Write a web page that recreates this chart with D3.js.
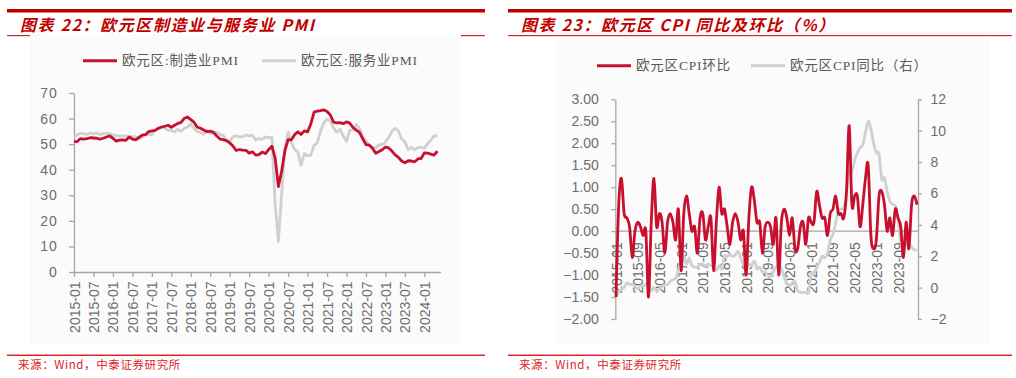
<!DOCTYPE html>
<html><head><meta charset="utf-8">
<script src="https://cdn.jsdelivr.net/npm/d3@7"></script>
<style>body{margin:0;background:#fff}svg{display:block}</style>
</head><body><svg id="c" width="1016" height="378"></svg>
<script>
// ---------- data ----------
const pmiStart = "2015-01", pmiEnd = "2024-05";
const mfgPMI = [
51.0,51.0,52.2,52.0,52.2,52.5,52.4,52.3,52.0,52.3,52.8,53.2,
52.3,51.2,51.6,51.7,51.5,52.8,52.0,51.7,52.6,53.5,53.7,54.9,
55.2,55.4,56.2,56.7,57.0,57.4,56.6,57.4,58.1,58.5,60.1,60.6,
59.6,58.6,56.6,56.2,55.5,54.9,55.1,54.6,53.2,52.0,51.8,51.4,
50.5,49.3,47.5,47.9,47.7,47.6,46.5,47.0,45.7,45.9,46.9,46.3,
47.9,49.2,44.5,33.4,39.4,47.4,51.8,51.7,53.7,54.8,53.8,55.2,
54.8,57.9,62.5,62.9,63.1,63.4,62.8,61.4,58.6,58.3,58.4,58.0,
58.7,58.2,56.5,55.5,54.6,52.1,49.8,49.6,48.4,46.4,47.1,47.8,
48.8,48.5,47.3,45.8,44.8,43.4,42.7,43.5,43.4,43.1,44.2,44.4,
46.6,46.5,46.1,45.7,47.3];
const svcPMI = [
52.7,53.7,54.2,54.1,53.8,54.4,54.0,54.4,53.7,54.1,54.2,54.2,
53.6,53.3,53.1,53.1,53.3,52.8,52.9,52.8,52.2,52.8,53.8,53.7,
53.7,55.5,56.0,56.4,56.3,55.4,55.4,54.7,55.8,55.0,56.2,56.6,
58.0,56.2,54.9,54.7,53.8,55.2,54.2,54.4,54.7,53.7,53.4,51.2,
51.2,52.8,53.3,52.8,52.9,53.6,53.2,53.5,51.6,52.2,51.9,52.8,
52.5,52.6,26.4,12.0,30.5,48.3,54.7,50.5,48.0,46.9,41.7,46.4,
45.4,45.7,49.6,50.5,55.2,58.3,59.8,59.0,56.4,54.6,55.9,53.1,
51.1,55.5,55.6,57.7,56.1,53.0,51.2,49.8,48.8,48.6,49.8,49.8,
50.8,52.7,55.0,56.2,55.1,52.0,50.9,47.9,48.7,47.8,48.7,48.8,
48.4,50.2,51.5,53.3,53.2];
const pmiTicksY = [0,10,20,30,40,50,60,70];
const pmiTickLabels = ["2015-01","2015-07","2016-01","2016-07","2017-01","2017-07","2018-01","2018-07","2019-01","2019-07","2020-01","2020-07","2021-01","2021-07","2022-01","2022-07","2023-01","2023-07","2024-01"];

const cpiStart = "2015-01", cpiEnd = "2024-04";
const cpiMoM = [
-1.5,0.6,1.2,0.4,0.3,0.1,-0.6,0.0,0.2,0.1,-0.1,0.0,
-1.5,0.2,1.2,0.1,0.4,0.2,-0.5,0.2,0.4,0.2,-0.2,0.5,
-0.9,0.4,0.8,0.4,0.0,0.1,-0.5,0.3,0.4,-0.2,0.1,0.3,
-0.9,0.2,1.0,0.4,0.5,0.1,-0.3,0.2,0.4,0.2,-0.2,0.0,
-1.0,0.3,1.0,0.7,0.2,0.2,-0.5,0.1,0.2,0.1,-0.3,0.3,
-1.0,0.2,0.5,0.3,-0.1,0.3,-0.4,-0.4,0.1,0.2,-0.3,0.3,
0.2,0.2,0.9,0.6,0.3,0.3,-0.1,0.4,0.5,0.8,0.4,0.4,
0.3,0.9,2.4,0.6,0.8,0.8,0.1,0.6,1.2,1.5,-0.1,-0.4,
-0.2,0.8,0.9,0.6,0.0,0.3,-0.1,0.5,0.3,0.1,-0.6,0.2,
-0.4,0.6,0.8,0.6];
const cpiYoY = [
-0.6,-0.3,-0.1,0.0,0.3,0.2,0.2,0.1,-0.1,0.1,0.1,0.2,
0.3,-0.2,0.0,-0.2,-0.1,0.1,0.2,0.2,0.4,0.5,0.6,1.1,
1.7,2.0,1.5,1.9,1.4,1.3,1.3,1.5,1.5,1.4,1.5,1.4,
1.3,1.1,1.4,1.2,2.0,2.0,2.1,2.0,2.1,2.3,1.9,1.5,
1.4,1.5,1.4,1.7,1.2,1.3,1.0,1.0,0.8,0.7,1.0,1.3,
1.4,1.2,0.7,0.3,0.1,0.3,0.4,-0.2,-0.3,-0.3,-0.3,-0.3,
0.9,0.9,1.3,1.6,2.0,1.9,2.2,3.0,3.4,4.1,4.9,5.0,
5.1,5.9,7.4,7.4,8.1,8.6,8.9,9.1,9.9,10.6,10.1,9.2,
8.6,8.5,6.9,7.0,6.1,5.5,5.3,5.2,4.3,2.9,2.4,2.9,
2.8,2.6,2.4,2.4];
const cpiTicksL = [-2,-1.5,-1,-0.5,0,0.5,1,1.5,2,2.5,3];
const cpiTicksR = [-2,0,2,4,6,8,10,12];
const cpiTickLabels = ["2015-01","2015-09","2016-05","2017-01","2017-09","2018-05","2019-01","2019-09","2020-05","2021-01","2021-09","2022-05","2023-01","2023-09"];

// ---------- helpers ----------
const RED = "#c8102e", GRAY = "#d0d0d0", AX = "#a6a6a6", TXT = "#6e6e6e", TRED = "#c00000";
const svg = d3.select("#c");
const parseM = d3.timeParse("%Y-%m"), fmtM = d3.timeFormat("%Y-%m");
const monthsOf = (a,b) => d3.timeMonth.range(parseM(a), d3.timeMonth.offset(parseM(b),1)).map(fmtM);
const pmiMonths = monthsOf(pmiStart, pmiEnd);
const cpiMonths = monthsOf(cpiStart, cpiEnd);
const latinCJK = "'Liberation Serif','Noto Sans CJK SC',serif";
const sansFont = "'Liberation Sans',Arial,sans-serif";

function frame(x0, x1, title, bg) {
  svg.append("rect").attr("x", x0).attr("y", 9).attr("width", x1 - x0).attr("height", 3.5).attr("fill", TRED);
  svg.append("text").attr("x", x0 + 13).attr("y", 31).text(title)
    .attr("fill", TRED).style("font-family", "'Noto Sans CJK SC',sans-serif")
    .style("font-weight", "bold").style("font-style", "italic").style("font-size", "16px").style("letter-spacing", "1.6px");
  svg.append("rect").attr("x", x0).attr("y", 35).attr("width", x1 - x0).attr("height", 1.2).attr("fill", "#d9262a");
  svg.append("rect").attr("x", bg[0]).attr("y", bg[1]).attr("width", bg[2]).attr("height", bg[3]).attr("fill", "#fbfbfb");
  svg.append("rect").attr("x", x0).attr("y", 354.5).attr("width", x1 - x0).attr("height", 1.5).attr("fill", "#d9262a");
  svg.append("text").attr("x", x0 + 11).attr("y", 369).text("来源：Wind，中泰证券研究所")
    .attr("fill", "#d9262a").style("font-family", "'Noto Sans CJK SC',sans-serif").style("font-size", "11.5px").style("letter-spacing", "0.6px");
}

function legendItem(x, y, color, label) {
  svg.append("line").attr("x1", x).attr("x2", x + 34).attr("y1", y).attr("y2", y)
    .attr("stroke", color).attr("stroke-width", 3);
  svg.append("text").attr("x", x + 39).attr("y", y + 4.5).text(label).attr("fill", "#595959")
    .style("font-family", latinCJK).style("font-size", "13.5px").style("letter-spacing", "0.8px");
}

function styleAxis(g) {
  g.selectAll(".domain").attr("stroke", AX).attr("stroke-width", 1.3);
  g.selectAll(".tick line").attr("stroke", AX).attr("stroke-width", 1.3);
  g.selectAll("text").attr("fill", TXT).style("font-family", sansFont).style("font-size", "14px");
}

// ---------- left chart ----------
frame(7, 485, "图表 22：欧元区制造业与服务业 PMI", [30, 34, 431, 309]);
legendItem(83, 60.7, RED, "欧元区:制造业PMI");
legendItem(262, 60.7, GRAY, "欧元区:服务业PMI");

const xL = d3.scaleLinear().domain([0, 113]).range([74, 440.6]);
const yL = d3.scaleLinear().domain([0, 70]).range([272, 93]);

const gyL = svg.append("g").attr("transform", "translate(74,0)")
  .call(d3.axisLeft(yL).tickValues(pmiTicksY).tickSize(5).tickPadding(11.5).tickSizeOuter(0));
styleAxis(gyL);
gyL.selectAll(".tick text").style("letter-spacing", "0.8px");

const pmiIdx = pmiTickLabels.map(l => pmiMonths.indexOf(l));
const gxL = svg.append("g").attr("transform", "translate(0,272)")
  .call(d3.axisBottom(xL).tickValues(pmiIdx).tickFormat(i => pmiMonths[i]).tickSize(5).tickSizeOuter(0));
styleAxis(gxL);
gxL.selectAll(".tick text").attr("transform", "rotate(-90)").attr("x", -9.5).attr("y", 0).attr("dy", "0.36em").style("text-anchor", "end");

const lineL = d3.line().x((d, i) => xL(i)).y(d => yL(d));
svg.append("path").datum(svcPMI).attr("d", lineL).attr("fill", "none").attr("stroke", GRAY).attr("stroke-width", 2.8).attr("stroke-linejoin", "round");
svg.append("path").datum(mfgPMI).attr("d", lineL).attr("fill", "none").attr("stroke", RED).attr("stroke-width", 2.8).attr("stroke-linejoin", "round");

// ---------- right chart ----------
frame(508, 1012, "图表 23：欧元区 CPI 同比及环比（%）", [555, 37, 435, 306]);
legendItem(597, 65.7, RED, "欧元区CPI环比");
legendItem(751, 65.7, GRAY, "欧元区CPI同比（右）");

const xR = d3.scaleLinear().domain([0, cpiMoM.length - 1]).range([616, 917]);
const yR = d3.scaleLinear().domain([-2, 3]).range([319, 99.3]);
const yR2 = d3.scaleLinear().domain([-2, 12]).range([319, 99.3]);

const gyR = svg.append("g").attr("transform", "translate(615.3,0)")
  .call(d3.axisLeft(yR).tickValues(cpiTicksL).tickFormat(d3.format(".2f")).tickSize(4).tickPadding(12.5).tickSizeOuter(0));
styleAxis(gyR);
const gyR2 = svg.append("g").attr("transform", "translate(918,0)")
  .call(d3.axisRight(yR2).tickValues(cpiTicksR).tickSize(4).tickPadding(8.5).tickSizeOuter(0));
styleAxis(gyR2);

const cpiIdx = cpiTickLabels.map(l => cpiMonths.indexOf(l));
const gxR = svg.append("g").attr("transform", `translate(0,${yR(0)})`)
  .call(d3.axisBottom(xR).tickValues(cpiIdx).tickFormat(i => cpiMonths[i]).tickSize(0).tickSizeOuter(0));
styleAxis(gxR);
gxR.select(".domain").attr("d", `M615.3,0H918`);
gxR.selectAll(".tick text").attr("transform", "rotate(-90)").attr("x", -11).attr("y", 0).attr("dy", "0.36em").style("text-anchor", "end");

const curve = d3.curveCatmullRom.alpha(0);
svg.append("path").datum(cpiYoY).attr("d", d3.line().curve(curve).x((d, i) => xR(i)).y(d => yR2(d)))
  .attr("fill", "none").attr("stroke", GRAY).attr("stroke-width", 2.8);
svg.append("path").datum(cpiMoM).attr("d", d3.line().curve(curve).x((d, i) => xR(i)).y(d => yR(d)))
  .attr("fill", "none").attr("stroke", RED).attr("stroke-width", 2.8);
</script></body></html>
